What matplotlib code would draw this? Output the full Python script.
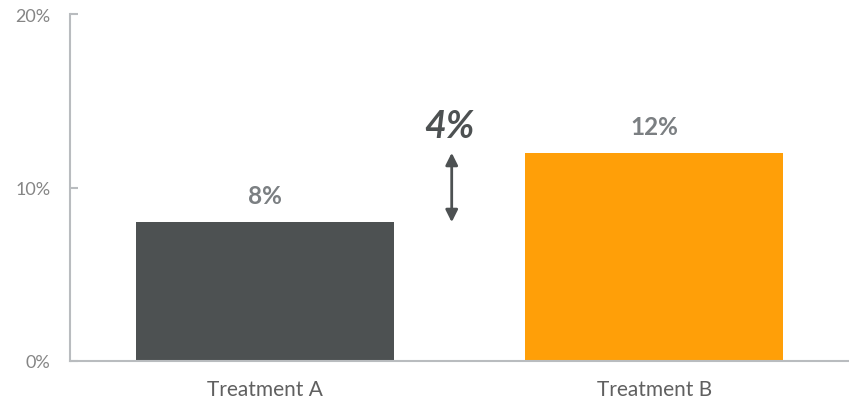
import matplotlib.pyplot as plt

categories = ['Treatment A', 'Treatment B']
values = [8, 12]
bar_labels = ['8%', '12%']
yticks = [0, 10, 20]
ytick_labels = ['0%', '10%', '20%']
diff_label = '4%'

plt.rcParams['font.family'] = ['Lato', 'DejaVu Sans']

fig = plt.figure(figsize=(8.49, 4.02), dpi=100)
ax = fig.add_axes([70 / 849, 40 / 402, 779 / 849, 347 / 402])

colors = ['#4d5152', '#ff9f08']
x = range(len(categories))
ax.bar(x, values, width=0.663, color=colors, zorder=2)

for i, v in enumerate(values):
    ax.annotate(bar_labels[i], (i, v), xytext=(0, 11), textcoords='offset points',
                ha='center', va='bottom', fontsize=17.5, fontweight='bold', color='#7b7f82')

# difference arrow between the bars
ax.annotate('', xy=(0.48, values[1]), xytext=(0.48, values[0]),
            arrowprops=dict(arrowstyle='<|-|>', color='#4d5152', lw=2,
                            mutation_scale=18, shrinkA=0, shrinkB=0))
ax.text(0.475, 13.6, diff_label, ha='center', va='center', fontsize=27,
        fontweight='bold', fontstyle='italic', color='#4d5152')

ax.set_xlim(-0.5, 1.5)
ax.set_ylim(0, 20)
ax.set_xticks(list(x))
ax.set_xticklabels(categories)
ax.set_yticks(yticks)
ax.set_yticklabels(ytick_labels)

for s in ['top', 'right']:
    ax.spines[s].set_visible(False)
for s in ['left', 'bottom']:
    ax.spines[s].set_color('#b9bcbf')
    ax.spines[s].set_linewidth(1.5)

ax.tick_params(axis='y', direction='in', length=6, width=1.5, color='#b9bcbf',
               labelsize=13, labelcolor='#858585', pad=14)
ax.tick_params(axis='x', length=0, labelsize=15, labelcolor='#606060', pad=13)

fig.savefig('out.png', dpi=100)
